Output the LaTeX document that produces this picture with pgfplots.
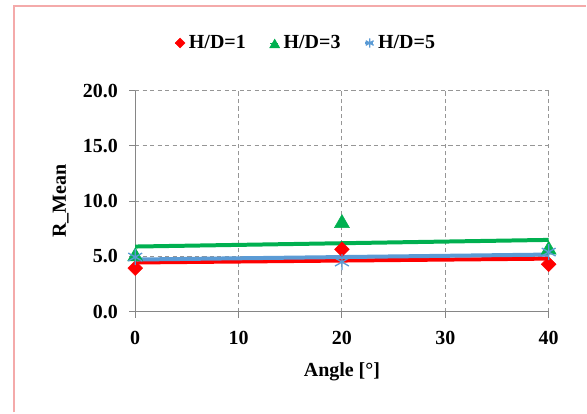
\documentclass[border=0pt]{standalone}
\usepackage{fontspec}
\setmainfont{Liberation Serif}
\usepackage{pgfplots}
\usepackage{pgfplotstable}
\pgfplotsset{compat=1.18}

\definecolor{hdred}{RGB}{255,0,0}
\definecolor{hdgreen}{RGB}{0,176,80}
\definecolor{hdblue}{RGB}{91,155,213}
\definecolor{framepink}{RGB}{244,170,170}
\definecolor{gridgray}{RGB}{150,150,150}
\definecolor{axgray}{RGB}{134,134,134}

% legend markers are drawn smaller than the plot markers
\pgfplotsset{
  legmark/.style 2 args={legend image code/.code={\path (0,0) -- (0.22cm,0);
    \draw[##1, mark size=#1] plot coordinates {(0.12cm,#2)};}},
}

% R_Mean per angle, one table per H/D
\pgfplotstableread{
x y
0 3.95
20 5.65
40 4.30
}\hdone
\pgfplotstableread{
x y
0 5.00
20 8.00
40 5.60
}\hdthree
\pgfplotstableread{
x y
0 4.95
20 4.50
40 5.40
}\hdfive

\newcommand\chartfont{\fontsize{15}{18}\selectfont\bfseries}

\begin{document}
\begin{tikzpicture}
\path[fill=white] (0,0) rectangle (440.25pt,309.75pt);
\draw[framepink, line width=1.5pt] (10.5pt,0) -- (10.5pt,304.9pt) -- (440.25pt,304.9pt);
\begin{axis}[
  at={(101.6pt,75.5pt)}, anchor=origin,
  scale only axis, width=310.6pt, height=166.2pt,
  xmin=0, xmax=40, ymin=0, ymax=20,
  xtick={0,10,...,40}, ytick={0,5,...,20},
  axis x line*=bottom, axis y line*=left,
  axis line style={axgray, line width=0.75pt},
  tick align=outside, major tick length=4.5pt,
  tick style={axgray, line width=0.75pt},
  grid=major,
  major grid style={gridgray, dash pattern=on 3.2pt off 2.4pt, line width=0.75pt},
  /pgf/number format/assume math mode=true,
  tick label style={font=\chartfont},
  xticklabel style={yshift=-6.5pt},
  yticklabel style={xshift=-5pt, /pgf/number format/.cd, fixed, fixed zerofill, precision=1},
  label style={font=\chartfont},
  xlabel={Angle [°]},
  ylabel={R\_Mean},
  xlabel style={at={(axis description cs:0.5,-0.272)}, anchor=center},
  ylabel style={at={(axis description cs:-0.18,0.5)}, anchor=center},
  legend columns=3,
  legend style={at={(axis description cs:0.414,1.215)}, anchor=center,
    draw=none, fill=none, font=\chartfont,
    /tikz/every odd column/.append style={column sep=1pt},
    /tikz/every even column/.append style={column sep=16pt}},
  clip=false,
]
\addplot[only marks, mark=square*, mark options={rotate=45}, mark size=3.9pt, color=hdred,
  legmark={2.6pt}{0cm}] table[x=x,y=y] {\hdone};
\addlegendentry{H/D=1}
\addplot[only marks, mark=triangle*, mark size=6.5pt, color=hdgreen,
  legmark={4.3pt}{-0.05cm}] table[x=x,y=y] {\hdthree};
\addlegendentry{H/D=3}
\addplot[only marks, mark=asterisk, mark size=6pt, line width=1pt, color=hdblue,
  legmark={3.4pt}{0cm}] table[x=x,y=y] {\hdfive};
\addlegendentry{H/D=5}
% linear trend lines
\addplot[forget plot, no marks, hdred, line width=3pt] table[x=x, y={create col/linear regression={y=y}}] {\hdone};
\addplot[forget plot, no marks, hdgreen, line width=3pt] table[x=x, y={create col/linear regression={y=y}}] {\hdthree};
\addplot[forget plot, no marks, hdblue, line width=3pt] table[x=x, y={create col/linear regression={y=y}}] {\hdfive};
\end{axis}
\end{tikzpicture}
\end{document}
